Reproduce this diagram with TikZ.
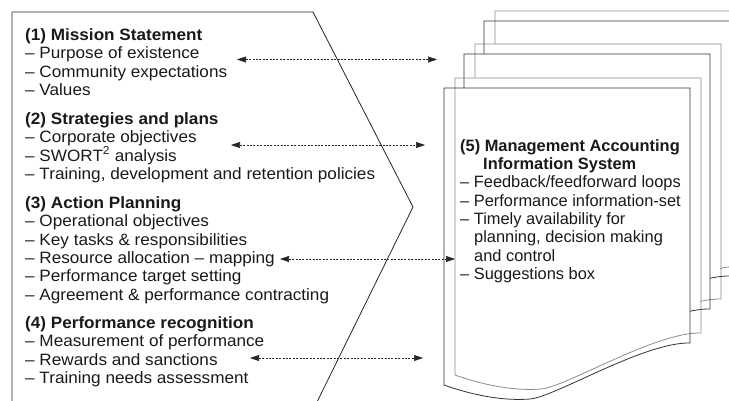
\documentclass[tikz,border=0pt]{standalone}
\usepackage{fontspec}
\setmainfont[FakeStretch=1.045]{Liberation Sans}
\newfontfamily\docfont{Liberation Sans}
\usetikzlibrary{arrows.meta,positioning}

\begin{document}
\begin{tikzpicture}[%
    x=1pt, y=-1pt,                       % pixel-like units, y runs downwards
    >={Triangle[length=9pt,width=6pt]},  % filled heads on the links
    ]
% -------------------------------------------------
% Styles: text blocks, links and the stacked sheets
\tikzset{
  txt/.style={anchor=north west, align=left, inner sep=0pt,
    font=\fontsize{16.4}{18.4}\selectfont, text=black!90},
  doctxt/.style={txt, font=\docfont\fontsize{16.4}{18.3}\selectfont},
  frame/.style={draw=black!85, line width=0.8pt},
  link/.style={<->, draw=black!85, line width=0.6pt,
    dash pattern=on 2pt off 1.4pt},
  lt/.style={draw=black!45, line width=0.8pt},
  dk/.style={draw=black!80, line width=0.8pt},
  sheet/.pic={\path[pic actions] (0,297) -- (0,0) -- (246,0) -- (246,255)
      .. controls (200,254) and (111,309) .. (86,311)
      .. controls (61,313) and (31,308) .. (0,297) -- cycle;},
}
\useasboundingbox (0,0) rectangle (729,400);

% -------------------------------------------------
% The stack of sheets (two outlines per sheet);
% a back sheet only shows above and right of the one before it
\foreach \x/\y/\cy/\cx/\st in {495/11/44/720/lt, 475/44/78/700/lt,
                               484/21/54/710/dk, 464/54/88/690/dk}{
  \begin{scope}
    \clip (0,0) rectangle (800,\cy) (\cx,0) rectangle (800,420);
    \pic[\st] at (\x,\y) {sheet};
  \end{scope}
}
\pic[lt] at (455,78) {sheet};
\pic[dk] at (444,88) {sheet};

% The chevron round the left block
\draw[frame] (12,402) -- (12,12) -- (313,12) -- (413,207) -- (317,402);

% -------------------------------------------------
% Text blocks
\node[txt] (mission) at (25,28.2) {\textbf{(1) Mission Statement}\\
  – Purpose of existence\\
  – Community expectations\\
  – Values};
\node[txt] (strategy) at (25,112.2) {\textbf{(2) Strategies and plans}\\
  – Corporate objectives\\
  – SWORT\textsuperscript{2} analysis\\
  – Training, development and retention policies};
\node[txt] (action) at (25,196.2) {\textbf{(3) Action Planning}\\
  – Operational objectives\\
  – Key tasks \& responsibilities\\
  – Resource allocation – mapping\\
  – Performance target setting\\
  – Agreement \& performance contracting};
\node[txt] (recog) at (25,316.2) {\textbf{(4) Performance recognition}\\
  – Measurement of performance\\
  – Rewards and sanctions\\
  – Training needs assessment};
\node[doctxt] (mais) at (460,139.2) {\textbf{(5) Management Accounting}\\
  \hspace*{23pt}\textbf{Information System}\\
  – Feedback/feedforward loops\\
  – Performance information-set\\
  – Timely availability for\\
  \hspace*{14pt}planning, decision making\\
  \hspace*{14pt}and control\\
  – Suggestions box};

% -------------------------------------------------
% Link ends and the dashed links
\coordinate (m1) at (237,59.5);  \coordinate (s1) at (437,59.5);
\coordinate (m2) at (231,145);   \coordinate (s2) at (425,145);
\coordinate (m3) at (280,259);   \coordinate (s3) at (455,259);
\coordinate (m4) at (250,358);   \coordinate (s4) at (423,358);

\draw[link] (m1) -- (s1);   %mission
\draw[link] (m2) -- (s2);   %strategies
\draw[link] (m3) -- (s3);   %action
\draw[link] (m4) -- (s4);   %recognition
% -------------------------------------------------
\end{tikzpicture}
\end{document}
